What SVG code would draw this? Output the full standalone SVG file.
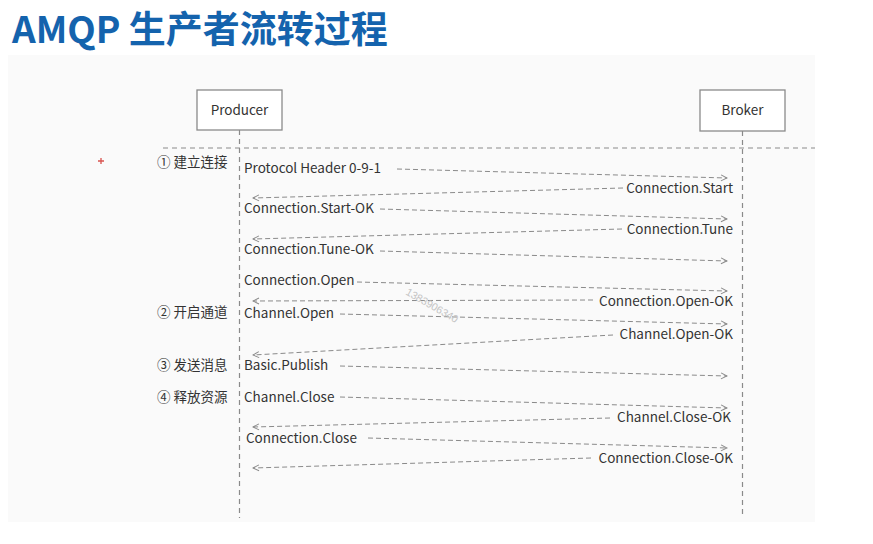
<svg xmlns="http://www.w3.org/2000/svg" width="873" height="544" viewBox="0 0 873 544">
<style>
.t{font-family:"Noto Sans CJK SC","Noto Sans",sans-serif;fill:#333;font-size:13.5px}
.st{font-family:"Noto Sans CJK SC","Noto Sans",sans-serif;fill:#333;font-size:13.5px}
.box{fill:#fff;stroke:#8a8a8a;stroke-width:1.3}
.life{stroke:#8a8a8a;stroke-width:1.2;stroke-dasharray:5 4;fill:none}
.msg{stroke:#8a8a8a;stroke-width:1;stroke-dasharray:5 3;fill:none}
</style>
<defs>
<marker id="ah" viewBox="0 0 8 8" refX="7" refY="4" markerWidth="8" markerHeight="8" markerUnits="userSpaceOnUse" orient="auto">
<path d="M1,1 L7,4 L1,7" fill="none" stroke="#8a8a8a" stroke-width="1"/>
</marker>
</defs>
<rect x="0" y="0" width="873" height="544" fill="#fff"/>
<rect x="8" y="55" width="807" height="467" fill="#fafafa"/>
<text x="12" y="43" font-family="'Noto Sans CJK SC','Noto Sans',sans-serif" font-weight="bold" font-size="37" fill="#1463ad">AMQP 生产者流转过程</text>
<path d="M98,161 h6 M101,158 v6" stroke="#d9534f" stroke-width="1.3"/>
<g id="producer">
<rect class="box" x="197" y="90" width="85" height="40"/>
<text class="t" x="239.5" y="115" text-anchor="middle" font-size="14">Producer</text>
</g>
<g id="broker">
<rect class="box" x="700" y="90" width="85" height="41"/>
<text class="t" x="742.5" y="115" text-anchor="middle" font-size="14">Broker</text>
</g>
<g id="lifelines">
<line class="life" x1="239.5" y1="130" x2="239.5" y2="518"/>
<line class="life" x1="742.5" y1="131" x2="742.5" y2="518"/>
<line class="life" x1="163" y1="148" x2="815" y2="148"/>
</g>
<g id="stages">
<text class="st" x="157" y="167">① 建立连接</text>
<text class="st" x="157" y="317">② 开启通道</text>
<text class="st" x="157" y="370">③ 发送消息</text>
<text class="st" x="157" y="402">④ 释放资源</text>
</g>
<g id="connectors">
<line class="msg" x1="397" y1="169" x2="727" y2="178" marker-end="url(#ah)"/>
<line class="msg" x1="623" y1="188" x2="253" y2="198" marker-end="url(#ah)"/>
<line class="msg" x1="380" y1="209" x2="727" y2="219" marker-end="url(#ah)"/>
<line class="msg" x1="622" y1="229" x2="253" y2="239" marker-end="url(#ah)"/>
<line class="msg" x1="380" y1="251" x2="727" y2="261" marker-end="url(#ah)"/>
<line class="msg" x1="357" y1="282" x2="727" y2="291" marker-end="url(#ah)"/>
<line class="msg" x1="593" y1="300" x2="253" y2="301" marker-end="url(#ah)"/>
<line class="msg" x1="340" y1="314" x2="727" y2="324" marker-end="url(#ah)"/>
<line class="msg" x1="613" y1="335" x2="253" y2="355" marker-end="url(#ah)"/>
<line class="msg" x1="340" y1="366" x2="727" y2="376" marker-end="url(#ah)"/>
<line class="msg" x1="340" y1="397" x2="727" y2="408" marker-end="url(#ah)"/>
<line class="msg" x1="610" y1="418" x2="253" y2="427" marker-end="url(#ah)"/>
<line class="msg" x1="368" y1="438" x2="727" y2="448" marker-end="url(#ah)"/>
<line class="msg" x1="591" y1="458" x2="253" y2="468" marker-end="url(#ah)"/>
</g>
<g id="labels">
<text class="t" x="244" y="173">Protocol Header 0-9-1</text>
<text class="t" x="733" y="193" text-anchor="end">Connection.Start</text>
<text class="t" x="244" y="213">Connection.Start-OK</text>
<text class="t" x="733" y="234" text-anchor="end">Connection.Tune</text>
<text class="t" x="244" y="254">Connection.Tune-OK</text>
<text class="t" x="244" y="285">Connection.Open</text>
<text class="t" x="733" y="306" text-anchor="end">Connection.Open-OK</text>
<text class="t" x="244" y="318">Channel.Open</text>
<text class="t" x="733" y="339" text-anchor="end">Channel.Open-OK</text>
<text class="t" x="244" y="370">Basic.Publish</text>
<text class="t" x="244" y="402">Channel.Close</text>
<text class="t" x="731" y="422" text-anchor="end">Channel.Close-OK</text>
<text class="t" x="246" y="443">Connection.Close</text>
<text class="t" x="733" y="463" text-anchor="end">Connection.Close-OK</text>
</g>
<text x="405" y="294" transform="rotate(30 405 294)" font-family="'Liberation Sans',sans-serif" font-size="10.5" fill="#c4c4c4">1383906340</text>
</svg>
